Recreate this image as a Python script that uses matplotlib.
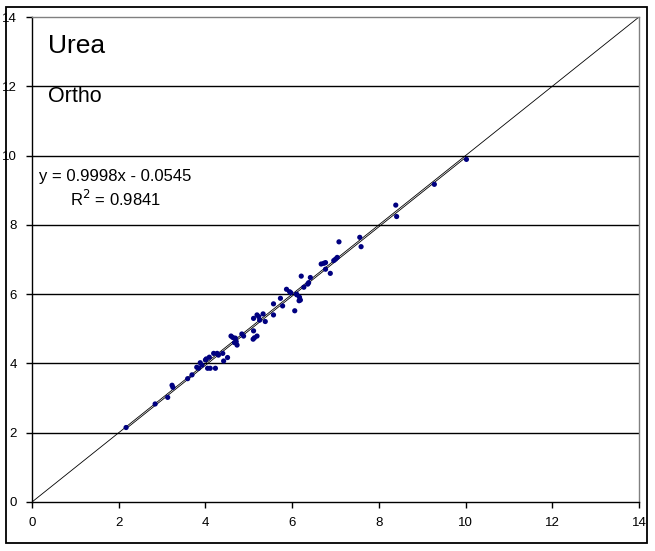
import matplotlib
matplotlib.use("Agg")
import matplotlib.pyplot as plt
from matplotlib.patches import Rectangle
import numpy as np

plt.rcParams['font.family'] = ['Liberation Sans', 'DejaVu Sans']

x_vals = [2.17, 2.84, 3.13, 3.23, 3.25, 3.59, 3.69, 3.80, 3.84, 3.88, 3.92,
          4.00, 4.02, 4.05, 4.11, 4.23, 4.09, 4.19, 4.27, 4.30, 4.40, 4.42,
          4.51, 4.59, 4.63, 4.69, 4.71, 4.73, 4.67, 4.84, 4.88, 5.11, 5.13,
          5.19, 5.10, 5.11, 5.19, 5.23, 5.25, 5.33, 5.38, 5.57, 5.57, 5.73,
          5.78, 5.87, 5.94, 5.97, 6.06, 6.10, 6.11, 6.17, 6.19, 6.16, 6.27,
          6.38, 6.36, 6.21, 6.42, 6.67, 6.73, 6.77, 6.77, 6.88, 6.96, 7.00,
          7.04, 7.08, 7.56, 7.59, 8.39, 8.41, 9.28, 10.02]
y_vals = [2.15, 2.83, 3.02, 3.37, 3.31, 3.56, 3.67, 3.89, 3.86, 4.02, 3.95,
          4.10, 4.13, 3.86, 3.86, 3.86, 4.18, 4.29, 4.29, 4.24, 4.29, 4.07,
          4.17, 4.79, 4.75, 4.73, 4.63, 4.53, 4.60, 4.85, 4.79, 4.94, 4.74,
          4.79, 4.70, 5.30, 5.40, 5.35, 5.25, 5.43, 5.21, 5.40, 5.72, 5.88,
          5.66, 6.14, 6.07, 6.04, 5.52, 6.00, 5.98, 5.91, 5.83, 5.81, 6.20,
          6.33, 6.29, 6.52, 6.48, 6.87, 6.89, 6.91, 6.72, 6.60, 6.97, 7.01,
          7.06, 7.51, 7.64, 7.37, 8.57, 8.24, 9.17, 9.89]

slope = 0.9998
intercept = -0.0545
ticks = [0, 2, 4, 6, 8, 10, 12, 14]

W, H = 655, 551
fig = plt.figure(figsize=(W / 100, H / 100), dpi=100)
ax = fig.add_axes([32 / W, 1 - 502 / H, (639 - 32) / W, (502 - 17) / H])

# outer frame
fig.patches.append(Rectangle((6 / W, 1 - 543 / H), (647 - 6) / W, (543 - 7) / H,
                             transform=fig.transFigure, fill=False,
                             edgecolor='black', linewidth=1.3))

ax.set_xlim(0, 14)
ax.set_ylim(0, 14)
for t in ticks[1:-1]:
    ax.axhline(t, color='black', linewidth=1.0, zorder=1)

# y = x line
ax.plot([0, 14], [0, 14], color='black', linewidth=0.6, zorder=2)
# trendline
xs = np.array([min(x_vals), max(x_vals)])
ax.plot(xs, slope * xs + intercept, color='black', linewidth=0.6, zorder=2)

ax.scatter(x_vals, y_vals, s=14, color='#000080', edgecolors='none', zorder=3)

ax.set_xticks(ticks)
ax.set_yticks(ticks)
ax.tick_params(direction='out', length=4, width=1, labelsize=9.5)
ax.tick_params(axis='x', pad=7)
ax.tick_params(axis='y', pad=7)
for s in ['left', 'bottom']:
    ax.spines[s].set_color('black')
    ax.spines[s].set_linewidth(1.0)
for s in ['top', 'right']:
    ax.spines[s].set_color('#808080')
    ax.spines[s].set_linewidth(1.0)

def fx(px):
    return px / W

def fy(py):
    return 1 - py / H

fig.text(fx(48), fy(53), 'Urea', fontsize=19, va='baseline', ha='left')
fig.text(fx(48), fy(102), 'Ortho', fontsize=15.5, va='baseline', ha='left')
fig.text(fx(39), fy(181), f'y = {slope:.4f}x - {abs(intercept):.4f}', fontsize=12,
         va='baseline', ha='left')
fig.text(fx(70), fy(206), r'R$^2$ = 0.9841', fontsize=12, va='baseline', ha='left')

fig.savefig('out.png', dpi=100)
